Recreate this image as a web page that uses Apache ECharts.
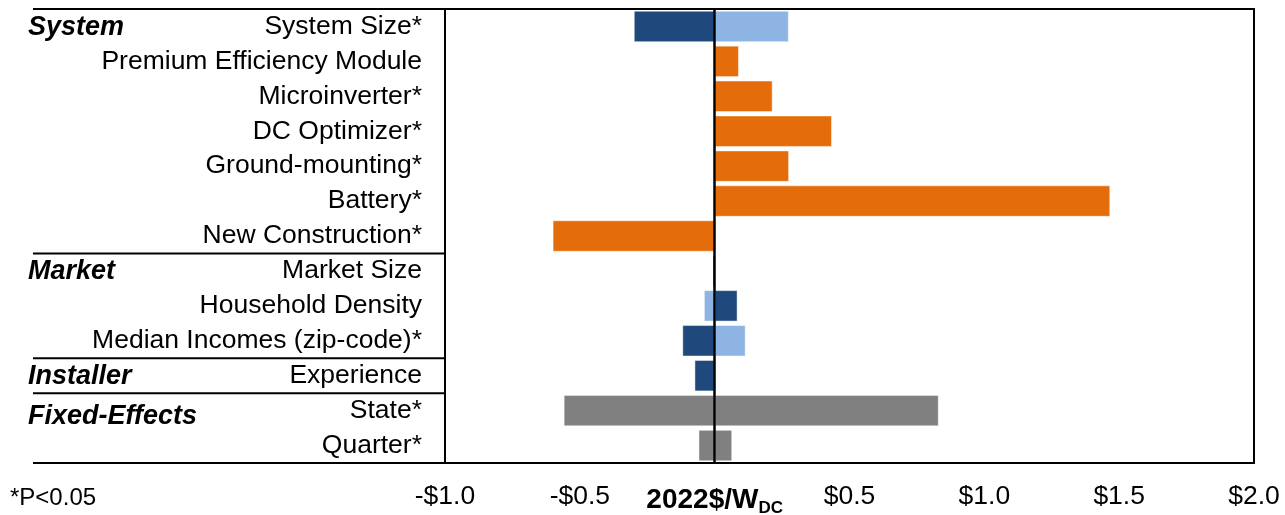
<!DOCTYPE html>
<html><head><meta charset="utf-8">
<script src="https://cdn.jsdelivr.net/npm/echarts@6/dist/echarts.min.js"></script>
<style>html,body{margin:0;padding:0;background:#fff}#c{width:1285px;height:515px}</style>
</head><body><div id="c"></div>
<script>
// ---- data ----
const categories = ['System Size*','Premium Efficiency Module','Microinverter*','DC Optimizer*','Ground-mounting*','Battery*','New Construction*','Market Size','Household Density','Median Incomes (zip-code)*','Experience','State*','Quarter*'];
const darkBlue  = [-0.30, null, null, null, null, null, null, -0.008, 0.085, -0.12, -0.075, null, null];
const lightBlue = [0.275, null, null, null, null, null, null, null, -0.04, 0.115, null, null, null];
const orange    = [null, 0.09, 0.215, 0.435, 0.276, 1.467, -0.601, null, null, null, null, null, null];
const grayLow   = [null, null, null, null, null, null, null, null, null, null, null, -0.56, -0.06];
const grayHigh  = [null, null, null, null, null, null, null, null, null, null, null, 0.831, 0.065];
const groupLabels = ['System','Market','Installer','Fixed-Effects'];
const groupRows   = ['System Size*','Market Size','Experience','State*'];
const separatorsAfter = ['New Construction*','Median Incomes (zip-code)*','Experience'];
const xMin = -1.0, xMax = 2.0, xStep = 0.5;
const footnote = '*P<0.05';

const FONT = 'Liberation Sans, Arial, sans-serif';
const chart = echarts.init(document.getElementById('c'), null, {renderer:'canvas'});

function barSeries(name, data, color, extra) {
  return Object.assign({
    name, type:'bar', stack:'total', data,
    barCategoryGap:'10%',
    itemStyle:{color, borderColor:'rgba(255,255,255,0.45)', borderWidth:1},
    emphasis:{disabled:true}, silent:true
  }, extra||{});
}

const option = {
  animation:false,
  backgroundColor:'#fff',
  grid:{left:445, right:31, top:9, bottom:52, outerBoundsMode:'none', containLabel:false,
        show:true, borderColor:'#000', borderWidth:2, backgroundColor:'transparent'},
  xAxis:{
    type:'value', min:xMin, max:xMax, interval:xStep,
    axisLine:{show:false}, axisTick:{show:false}, splitLine:{show:false},
    axisLabel:{
      show:true, showMinLabel:true, showMaxLabel:true, margin:20,
      fontFamily:FONT, fontSize:26.5, color:'#000', hideOverlap:false,
      formatter:function(v){
        if (Math.abs(v) < 1e-9) return '{b|2022$/W}{s|DC}';
        return (v<0?'-$':'$') + Math.abs(v).toFixed(1);
      },
      rich:{
        b:{fontFamily:FONT, fontSize:28, fontWeight:'bold', color:'#000', lineHeight:34, verticalAlign:'middle'},
        s:{fontFamily:FONT, fontSize:17, fontWeight:'bold', color:'#000', lineHeight:34, verticalAlign:'bottom'}
      }
    }
  },
  yAxis:{
    type:'category', data:categories, inverse:true,
    axisLine:{show:false}, axisTick:{show:false}, splitLine:{show:false},
    axisLabel:{interval:0, hideOverlap:false, fontFamily:FONT, fontSize:26.5, color:'#000', margin:23, align:'right'}
  },
  series:[
    barSeries('dark', darkBlue, '#1F497D'),
    barSeries('light', lightBlue, '#8DB4E2'),
    barSeries('orange', orange, '#E46C0A'),
    barSeries('grayLow', grayLow, '#808080'),
    barSeries('grayHigh', grayHigh, '#808080', {
      markLine:{silent:true, symbol:['none','none'], label:{show:false},
        lineStyle:{color:'#000', width:2.5, type:'solid'},
        data:[{xAxis:0}], z:10}
    })
  ]
};
chart.setOption(option);

// ---- decorations positioned from the library's own scales ----
const yc = categories.map(c => chart.convertToPixel({yAxisIndex:0}, c));
const band = Math.abs(yc[1]-yc[0]);
const xLeft = chart.convertToPixel({xAxisIndex:0}, xMin);
const yTop = yc[0] - band/2;
const yBottom = yc[yc.length-1] + band/2;
const lineStyle = {stroke:'#000', lineWidth:2};
const graphics = [];
graphics.push({type:'line', shape:{x1:33, y1:yTop, x2:xLeft, y2:yTop}, style:lineStyle, silent:true});
graphics.push({type:'line', shape:{x1:33, y1:yBottom, x2:xLeft, y2:yBottom}, style:lineStyle, silent:true});
separatorsAfter.forEach(c => {
  const i = categories.indexOf(c);
  const y = (yc[i] + yc[i+1]) / 2;
  graphics.push({type:'line', shape:{x1:33, y1:y, x2:xLeft, y2:y}, style:lineStyle, silent:true});
});
groupLabels.forEach((g, k) => {
  const i = categories.indexOf(groupRows[k]);
  const y = yc[i] + (g === 'Fixed-Effects' ? 6 : 1);
  graphics.push({type:'text', x:28, y:y, silent:true,
    style:{text:g, font:'italic bold 27px ' + FONT, fill:'#000', verticalAlign:'middle', align:'left'}});
});
graphics.push({type:'text', x:10, y:498, silent:true,
  style:{text:footnote, font:'24px ' + FONT, fill:'#000', verticalAlign:'middle', align:'left'}});
chart.setOption({graphic:graphics});
</script></body></html>
